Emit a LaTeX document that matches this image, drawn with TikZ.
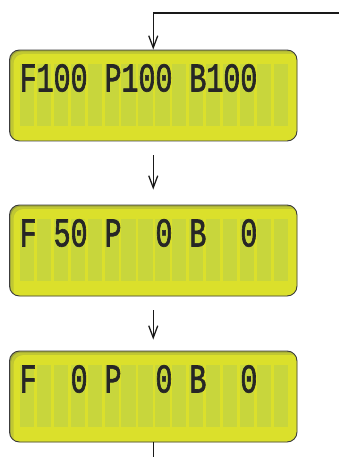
\documentclass[tikz,border=0pt]{standalone}
\usepackage{fontspec}
\newfontfamily\lcdfont[FakeStretch=0.69,FakeBold=1.5]{Liberation Mono}
\usetikzlibrary{arrows.meta}
\definecolor{lcdbg}{HTML}{DBE02B}
\definecolor{lcdcell}{HTML}{C8D63C}
\definecolor{lcdshade}{HTML}{9FA63A}
\definecolor{lcdmid}{HTML}{C0C733}
\definecolor{lcdtext}{HTML}{262626}
\definecolor{lcdborder}{HTML}{3C3C3C}
\tikzset{
  frame/.style={draw=lcdborder, line width=0.9pt, rounded corners=10pt,
    minimum width=287.5pt, minimum height=91pt, inner sep=0pt},
  lcdline/.style={anchor=base west, inner sep=0pt, text=lcdtext,
    font=\lcdfont\fontsize{41}{41}\selectfont},
  conn/.style={line width=1.5pt, draw=black!90},
  arr/.style={conn, -{Straight Barb[length=12pt,width=9pt,line width=1.3pt]}}
}
\newcommand\lcddisplay[3]{%
  \begin{scope}
    \clip[rounded corners=10pt] (9.5,#2) rectangle (297,#2+91);
    \fill[lcdshade] (9.5,#2) rectangle (297,#2+91);
    \fill[lcdmid,rounded corners=10pt] (11,#2+1.5) rectangle (302,#2+96);
    \fill[lcdbg,rounded corners=10pt] (13.5,#2+4) rectangle (302,#2+96);
  \end{scope}
  \foreach \i in {0,...,15}
    \fill[lcdcell] (20+\i*16.9,#2+14) rectangle ++(14.3,62);
  \node[frame] (#1) at (153.25,#2+45.5) {};
  \node[lcdline] (#1t) at (19.5,#2+14+27.5) {#3};
}
\begin{document}
\begin{tikzpicture}[x=1pt,y=-1pt]
\useasboundingbox (0,0) rectangle (339,457);
\lcddisplay{d1}{50}{F100 P100 B100}
\lcddisplay{d2}{205}{F~50 P~~0 B~~0}
\lcddisplay{d3}{351}{F~~0 P~~0 B~~0}
\coordinate (in) at (339,13);
\coordinate (out) at (153.25,457);
\draw[arr] (in) -| (d1.north);
\draw[arr] ([yshift=-14pt]d1.south) -- ([yshift=15pt]d2.north);
\draw[arr] ([yshift=-14pt]d2.south) -- ([yshift=11pt]d3.north);
\draw[conn] (d3.south) -- (out);
\end{tikzpicture}
\end{document}
